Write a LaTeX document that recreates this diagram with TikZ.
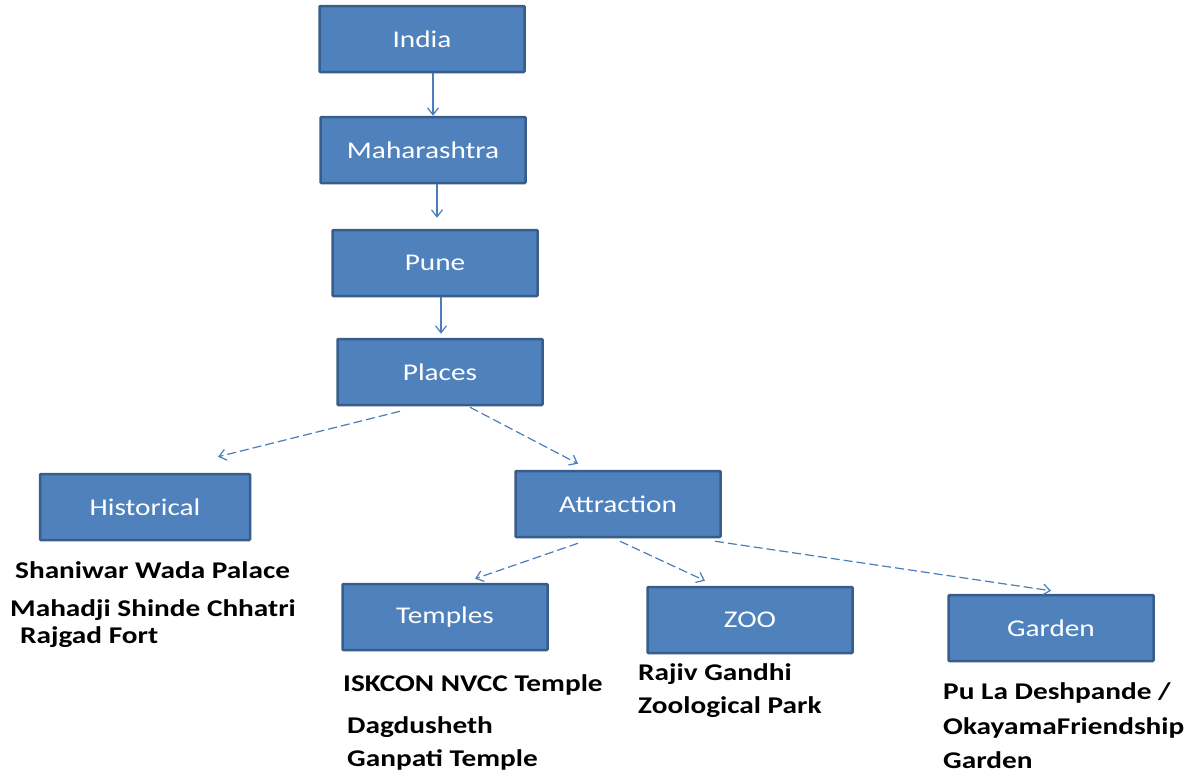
\documentclass[tikz,border=0pt]{standalone}
\usepackage{fontspec}
\setmainfont{Carlito}[FakeStretch=1.22]
\usetikzlibrary{arrows.meta}

\definecolor{boxfill}{HTML}{4F81BD}
\definecolor{boxedge}{HTML}{385D8A}
\definecolor{linkblue}{HTML}{4A7EBB}

\begin{document}
\begin{tikzpicture}[
    x = 1pt,
    y = -1pt,
    >={Straight Barb[length=7pt,width=11pt]},
    box/.style = {
      draw = boxedge,
      fill = boxfill,
      line width = 2.5pt,
      rounded corners = 1pt,
      minimum width = 205pt,
      minimum height = 66pt,
      text = white,
      font = \fontsize{24}{28}\selectfont
    },
    link/.style = {->, draw = linkblue, line width = 1.2pt},
    dashlink/.style = {link, dash pattern = on 9pt off 4pt},
    spot/.style = {
      anchor = west,
      inner sep = 0pt,
      font = \bfseries\fontsize{24}{28}\selectfont
    }
  ]
  \useasboundingbox (0,0) rectangle (1197,774);

  \node[box] (india) at (422,39) {India};
  \node[box] (maharashtra) at (423,150) {Maharashtra};
  \node[box] (pune) at (435,263) {Pune};
  \node[box] (places) at (440,372) {Places};
  \node[box, minimum width = 210pt] (historical) at (145,507) {Historical};
  \node[box] (attraction) at (618,504) {Attraction};
  \node[box] (temples) at (445,617) {Temples};
  \node[box] (zoo) at (750,620) {ZOO};
  \node[box] (garden) at (1051,628) {Garden};

  \draw[link] ([xshift=11pt]india.south) -- ([xshift=10pt]maharashtra.north);
  \draw[link, shorten >=11pt] ([xshift=14pt]maharashtra.south) -- ([xshift=2pt]pune.north);
  \draw[link, shorten >=4pt] ([xshift=6pt]pune.south) -- ([xshift=1pt]places.north);

  \draw[dashlink] ([shift={(-40,5)}]places.south) -- ([shift={(73,-16)}]historical.north);
  \draw[dashlink] ([shift={(30,1)}]places.south) -- ([shift={(-40,-6)}]attraction.north);
  \draw[dashlink] ([shift={(-40,5)}]attraction.south) -- ([shift={(30,-4)}]temples.north);
  \draw[dashlink] ([shift={(2,3)}]attraction.south) -- ([shift={(-45,-5)}]zoo.north);
  \draw[dashlink] ([shift={(97,3)}]attraction.south) -- ([shift={(0,-3)}]garden.north);

  % text under the boxes
  \node[spot] (shaniwar) at (15,570) {Shaniwar Wada Palace};
  \node[spot] (mahadji) at (10,610) {Mahadji Shinde Chhatri};
  \node[spot] (rajgad) at (20,637) {Rajgad Fort};

  \node[spot] (iskcon) at (343,685) {ISKCON NVCC Temple};
  \node[spot] (dagdusheth) at (347,727) {Dagdusheth};
  \node[spot] (ganpati) at (347,760) {Ganpati Temple};

  \node[spot] (rajiv) at (638,674) {Rajiv Gandhi};
  \node[spot] (zoological) at (638,707) {Zoological Park};

  \node[spot] (pula) at (943,693) {Pu La Deshpande /};
  \node[spot] (okayama) at (943,728) {OkayamaFriendship};
  \node[spot] (gardentext) at (943,760) {Garden};
\end{tikzpicture}
\end{document}
